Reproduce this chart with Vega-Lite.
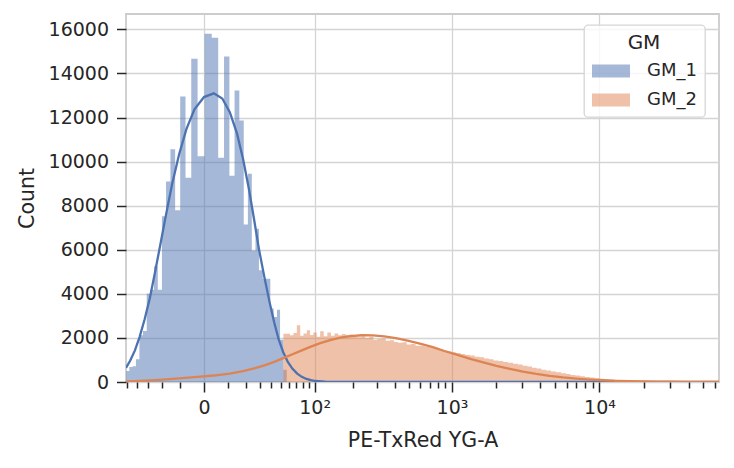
{
  "$schema": "https://vega.github.io/schema/vega-lite/v6.json",
  "autosize": {"type": "none"},
  "padding": {"left": 126, "top": 14, "right": 15, "bottom": 86},
  "width": 593,
  "height": 368,
  "background": "white",
  "datasets": {
    "hist": [
      {"GM": "GM_1", "x": -51.3, "count": 500},
      {"GM": "GM_1", "x": -47.9, "count": 680},
      {"GM": "GM_1", "x": -44.5, "count": 710},
      {"GM": "GM_1", "x": -41.1, "count": 1030},
      {"GM": "GM_1", "x": -37.8, "count": 2120},
      {"GM": "GM_1", "x": -34.6, "count": 2310},
      {"GM": "GM_1", "x": -31.4, "count": 4010},
      {"GM": "GM_1", "x": -28.5, "count": 4190},
      {"GM": "GM_1", "x": -25.7, "count": 5250},
      {"GM": "GM_1", "x": -23.0, "count": 4190},
      {"GM": "GM_1", "x": -20.2, "count": 7520},
      {"GM": "GM_1", "x": -17.6, "count": 9100},
      {"GM": "GM_1", "x": -15.0, "count": 10560},
      {"GM": "GM_1", "x": -12.4, "count": 7790},
      {"GM": "GM_1", "x": -9.8, "count": 12960},
      {"GM": "GM_1", "x": -7.3, "count": 9270},
      {"GM": "GM_1", "x": -4.8, "count": 14670},
      {"GM": "GM_1", "x": -2.3, "count": 10240},
      {"GM": "GM_1", "x": 0.2, "count": 15800},
      {"GM": "GM_1", "x": 2.8, "count": 15620},
      {"GM": "GM_1", "x": 5.4, "count": 10180},
      {"GM": "GM_1", "x": 8.0, "count": 14775},
      {"GM": "GM_1", "x": 10.6, "count": 9360},
      {"GM": "GM_1", "x": 13.3, "count": 13230},
      {"GM": "GM_1", "x": 16.0, "count": 11870},
      {"GM": "GM_1", "x": 18.7, "count": 7150},
      {"GM": "GM_1", "x": 21.4, "count": 9450},
      {"GM": "GM_1", "x": 24.1, "count": 5970},
      {"GM": "GM_1", "x": 26.8, "count": 6960},
      {"GM": "GM_1", "x": 29.5, "count": 5070},
      {"GM": "GM_1", "x": 32.7, "count": 4690},
      {"GM": "GM_1", "x": 36.1, "count": 4690},
      {"GM": "GM_1", "x": 39.4, "count": 3330},
      {"GM": "GM_1", "x": 42.7, "count": 2950},
      {"GM": "GM_1", "x": 46.1, "count": 3280},
      {"GM": "GM_1", "x": 49.4, "count": 1920},
      {"GM": "GM_1", "x": 53.2, "count": 560},
      {"GM": "GM_1", "x": 57.2, "count": 0},
      {"GM": "GM_2", "x": 53.2, "count": 2190},
      {"GM": "GM_2", "x": 57.2, "count": 2190},
      {"GM": "GM_2", "x": 61.3, "count": 2120},
      {"GM": "GM_2", "x": 65.9, "count": 2220},
      {"GM": "GM_2", "x": 70.6, "count": 2570},
      {"GM": "GM_2", "x": 75.6, "count": 2100},
      {"GM": "GM_2", "x": 80.7, "count": 2200},
      {"GM": "GM_2", "x": 86.1, "count": 2350},
      {"GM": "GM_2", "x": 91.6, "count": 2130},
      {"GM": "GM_2", "x": 97.5, "count": 2250},
      {"GM": "GM_2", "x": 103.9, "count": 2050},
      {"GM": "GM_2", "x": 110.9, "count": 2300},
      {"GM": "GM_2", "x": 118.4, "count": 2080},
      {"GM": "GM_2", "x": 126.4, "count": 2250},
      {"GM": "GM_2", "x": 134.9, "count": 2100},
      {"GM": "GM_2", "x": 144.0, "count": 2200},
      {"GM": "GM_2", "x": 153.7, "count": 2120},
      {"GM": "GM_2", "x": 164.1, "count": 2180},
      {"GM": "GM_2", "x": 175.1, "count": 2130},
      {"GM": "GM_2", "x": 186.9, "count": 2160},
      {"GM": "GM_2", "x": 199.5, "count": 2080},
      {"GM": "GM_2", "x": 213.6, "count": 2030},
      {"GM": "GM_2", "x": 228.7, "count": 2080},
      {"GM": "GM_2", "x": 244.9, "count": 2000},
      {"GM": "GM_2", "x": 262.2, "count": 2050},
      {"GM": "GM_2", "x": 280.8, "count": 1920},
      {"GM": "GM_2", "x": 300.6, "count": 1950},
      {"GM": "GM_2", "x": 321.7, "count": 1970},
      {"GM": "GM_2", "x": 344.4, "count": 1870},
      {"GM": "GM_2", "x": 368.7, "count": 1900},
      {"GM": "GM_2", "x": 394.6, "count": 1820},
      {"GM": "GM_2", "x": 422.8, "count": 1780},
      {"GM": "GM_2", "x": 453.0, "count": 1800},
      {"GM": "GM_2", "x": 485.6, "count": 1700},
      {"GM": "GM_2", "x": 520.9, "count": 1720},
      {"GM": "GM_2", "x": 559.6, "count": 1650},
      {"GM": "GM_2", "x": 601.3, "count": 1640},
      {"GM": "GM_2", "x": 649.2, "count": 1600},
      {"GM": "GM_2", "x": 701, "count": 1560},
      {"GM": "GM_2", "x": 751.3, "count": 1520},
      {"GM": "GM_2", "x": 805.2, "count": 1480},
      {"GM": "GM_2", "x": 858.5, "count": 1430},
      {"GM": "GM_2", "x": 917.6, "count": 1400},
      {"GM": "GM_2", "x": 990, "count": 1350},
      {"GM": "GM_2", "x": 1066, "count": 1320},
      {"GM": "GM_2", "x": 1148, "count": 1270},
      {"GM": "GM_2", "x": 1236, "count": 1230},
      {"GM": "GM_2", "x": 1330, "count": 1200},
      {"GM": "GM_2", "x": 1432, "count": 1150},
      {"GM": "GM_2", "x": 1541, "count": 1120},
      {"GM": "GM_2", "x": 1659, "count": 1070},
      {"GM": "GM_2", "x": 1786, "count": 1030},
      {"GM": "GM_2", "x": 1923, "count": 980},
      {"GM": "GM_2", "x": 2072, "count": 950},
      {"GM": "GM_2", "x": 2237, "count": 910},
      {"GM": "GM_2", "x": 2414, "count": 870},
      {"GM": "GM_2", "x": 2606, "count": 830},
      {"GM": "GM_2", "x": 2813, "count": 790},
      {"GM": "GM_2", "x": 3034, "count": 740},
      {"GM": "GM_2", "x": 3261, "count": 700},
      {"GM": "GM_2", "x": 3503, "count": 650},
      {"GM": "GM_2", "x": 3766, "count": 610},
      {"GM": "GM_2", "x": 4049, "count": 560},
      {"GM": "GM_2", "x": 4370, "count": 520},
      {"GM": "GM_2", "x": 4716, "count": 480},
      {"GM": "GM_2", "x": 5091, "count": 440},
      {"GM": "GM_2", "x": 5510, "count": 400},
      {"GM": "GM_2", "x": 5963, "count": 360},
      {"GM": "GM_2", "x": 6375, "count": 320},
      {"GM": "GM_2", "x": 6869, "count": 290},
      {"GM": "GM_2", "x": 7405, "count": 260},
      {"GM": "GM_2", "x": 7980, "count": 230},
      {"GM": "GM_2", "x": 8603, "count": 200},
      {"GM": "GM_2", "x": 9272, "count": 175},
      {"GM": "GM_2", "x": 9993, "count": 150},
      {"GM": "GM_2", "x": 10772, "count": 130},
      {"GM": "GM_2", "x": 11610, "count": 110},
      {"GM": "GM_2", "x": 12515, "count": 95},
      {"GM": "GM_2", "x": 13490, "count": 80},
      {"GM": "GM_2", "x": 14540, "count": 68},
      {"GM": "GM_2", "x": 15670, "count": 57},
      {"GM": "GM_2", "x": 16890, "count": 48},
      {"GM": "GM_2", "x": 18200, "count": 40},
      {"GM": "GM_2", "x": 19620, "count": 33},
      {"GM": "GM_2", "x": 21150, "count": 27},
      {"GM": "GM_2", "x": 22790, "count": 22},
      {"GM": "GM_2", "x": 24570, "count": 18},
      {"GM": "GM_2", "x": 26480, "count": 15},
      {"GM": "GM_2", "x": 28540, "count": 12},
      {"GM": "GM_2", "x": 30760, "count": 10},
      {"GM": "GM_2", "x": 33160, "count": 8},
      {"GM": "GM_2", "x": 35740, "count": 6},
      {"GM": "GM_2", "x": 38520, "count": 5},
      {"GM": "GM_2", "x": 41520, "count": 4},
      {"GM": "GM_2", "x": 44750, "count": 3},
      {"GM": "GM_2", "x": 48240, "count": 2},
      {"GM": "GM_2", "x": 51990, "count": 2},
      {"GM": "GM_2", "x": 56040, "count": 1},
      {"GM": "GM_2", "x": 60390, "count": 0}
    ],
    "curves": [
      {"GM": "GM_1", "x": -51.6, "y": 642},
      {"GM": "GM_1", "x": -46.9, "y": 975},
      {"GM": "GM_1", "x": -42.1, "y": 1436},
      {"GM": "GM_1", "x": -37.6, "y": 2048},
      {"GM": "GM_1", "x": -33.2, "y": 2834},
      {"GM": "GM_1", "x": -28.9, "y": 3799},
      {"GM": "GM_1", "x": -25.1, "y": 4937},
      {"GM": "GM_1", "x": -21.3, "y": 6220},
      {"GM": "GM_1", "x": -17.6, "y": 7597},
      {"GM": "GM_1", "x": -14.0, "y": 8992},
      {"GM": "GM_1", "x": -10.4, "y": 10316},
      {"GM": "GM_1", "x": -6.9, "y": 11474},
      {"GM": "GM_1", "x": -3.5, "y": 12372},
      {"GM": "GM_1", "x": 0, "y": 12930},
      {"GM": "GM_1", "x": 3.6, "y": 13100},
      {"GM": "GM_1", "x": 7.2, "y": 12863},
      {"GM": "GM_1", "x": 10.8, "y": 12243},
      {"GM": "GM_1", "x": 14.6, "y": 11297},
      {"GM": "GM_1", "x": 18.3, "y": 10104},
      {"GM": "GM_1", "x": 22.1, "y": 8761},
      {"GM": "GM_1", "x": 25.8, "y": 7362},
      {"GM": "GM_1", "x": 29.6, "y": 5998},
      {"GM": "GM_1", "x": 34.1, "y": 4736},
      {"GM": "GM_1", "x": 38.7, "y": 3625},
      {"GM": "GM_1", "x": 43.3, "y": 2690},
      {"GM": "GM_1", "x": 47.9, "y": 1935},
      {"GM": "GM_1", "x": 53.0, "y": 1350},
      {"GM": "GM_1", "x": 58.5, "y": 912},
      {"GM": "GM_1", "x": 64.6, "y": 597},
      {"GM": "GM_1", "x": 71.1, "y": 379},
      {"GM": "GM_1", "x": 78.0, "y": 233},
      {"GM": "GM_1", "x": 85.4, "y": 139},
      {"GM": "GM_1", "x": 93.2, "y": 81},
      {"GM": "GM_1", "x": 101.5, "y": 45},
      {"GM": "GM_1", "x": 121.6, "y": 13},
      {"GM": "GM_1", "x": 150.2, "y": 2},
      {"GM": "GM_1", "x": 237.9, "y": 0},
      {"GM": "GM_1", "x": 738.1, "y": 0},
      {"GM": "GM_1", "x": 4016, "y": 0},
      {"GM": "GM_1", "x": 22680, "y": 0},
      {"GM": "GM_1", "x": 74870, "y": 0},
      {"GM": "GM_2", "x": -51.6, "y": 27},
      {"GM": "GM_2", "x": -42.1, "y": 40},
      {"GM": "GM_2", "x": -33.2, "y": 59},
      {"GM": "GM_2", "x": -25.1, "y": 84},
      {"GM": "GM_2", "x": -17.6, "y": 119},
      {"GM": "GM_2", "x": -10.4, "y": 164},
      {"GM": "GM_2", "x": -3.5, "y": 222},
      {"GM": "GM_2", "x": 3.6, "y": 294},
      {"GM": "GM_2", "x": 10.8, "y": 384},
      {"GM": "GM_2", "x": 18.3, "y": 490},
      {"GM": "GM_2", "x": 25.8, "y": 615},
      {"GM": "GM_2", "x": 34.1, "y": 757},
      {"GM": "GM_2", "x": 43.3, "y": 914},
      {"GM": "GM_2", "x": 53.0, "y": 1083},
      {"GM": "GM_2", "x": 64.6, "y": 1259},
      {"GM": "GM_2", "x": 78.0, "y": 1436},
      {"GM": "GM_2", "x": 93.2, "y": 1608},
      {"GM": "GM_2", "x": 111.1, "y": 1765},
      {"GM": "GM_2", "x": 133.1, "y": 1902},
      {"GM": "GM_2", "x": 159.5, "y": 2010},
      {"GM": "GM_2", "x": 191.1, "y": 2085},
      {"GM": "GM_2", "x": 230.6, "y": 2121},
      {"GM": "GM_2", "x": 278.6, "y": 2118},
      {"GM": "GM_2", "x": 336.4, "y": 2075},
      {"GM": "GM_2", "x": 406.4, "y": 1994},
      {"GM": "GM_2", "x": 492.0, "y": 1881},
      {"GM": "GM_2", "x": 600, "y": 1740},
      {"GM": "GM_2", "x": 738.1, "y": 1580},
      {"GM": "GM_2", "x": 886.9, "y": 1407},
      {"GM": "GM_2", "x": 1089, "y": 1230},
      {"GM": "GM_2", "x": 1336, "y": 1054},
      {"GM": "GM_2", "x": 1638, "y": 887},
      {"GM": "GM_2", "x": 2011, "y": 732},
      {"GM": "GM_2", "x": 2485, "y": 593},
      {"GM": "GM_2", "x": 3045, "y": 471},
      {"GM": "GM_2", "x": 3747, "y": 367},
      {"GM": "GM_2", "x": 4612, "y": 281},
      {"GM": "GM_2", "x": 5677, "y": 211},
      {"GM": "GM_2", "x": 6988, "y": 155},
      {"GM": "GM_2", "x": 8603, "y": 112},
      {"GM": "GM_2", "x": 10588, "y": 80},
      {"GM": "GM_2", "x": 13032, "y": 55},
      {"GM": "GM_2", "x": 16040, "y": 38},
      {"GM": "GM_2", "x": 19745, "y": 25},
      {"GM": "GM_2", "x": 24310, "y": 17},
      {"GM": "GM_2", "x": 29920, "y": 11},
      {"GM": "GM_2", "x": 36830, "y": 7},
      {"GM": "GM_2", "x": 45340, "y": 4},
      {"GM": "GM_2", "x": 55800, "y": 3},
      {"GM": "GM_2", "x": 68680, "y": 2}
    ]
  },
  "layer": [
    {
      "data": {"name": "hist"},
      "mark": {"type": "area", "interpolate": "step-after", "fillOpacity": 0.5, "strokeWidth": 0, "clip": true},
      "encoding": {
        "x": {
          "field": "x", "type": "quantitative",
          "scale": {"type": "symlog", "constant": 22, "domain": [-51.6, 63780], "nice": false, "zero": false},
          "axis": {
            "orient": "bottom",
            "values": [0, 100, 1000, 10000],
            "labelExpr": "datum.value == 0 ? '0' : datum.value == 100 ? '10²' : datum.value == 1000 ? '10³' : '10⁴'",
            "tickSize": 10, "labelPadding": 6, "grid": true,
            "title": "PE-TxRed YG-A", "titlePadding": 13
          }
        },
        "y": {
          "field": "count", "type": "quantitative", "stack": null,
          "scale": {"domain": [0, 16700], "nice": false},
          "axis": {"values": [0, 2000, 4000, 6000, 8000, 10000, 12000, 14000, 16000], "format": "d", "title": "Count", "tickSize": 9.5, "labelPadding": 8, "titlePadding": 11, "grid": true}
        },
        "color": {
          "field": "GM", "type": "nominal",
          "scale": {"domain": ["GM_1", "GM_2"], "range": ["#4c72b0", "#dd8452"]},
          "legend": {
            "title": "GM",
            "orient": "none", "legendX": 458, "legendY": 11,
            "symbolType": "M-1.9,-0.645H1.9V0.645H-1.9Z", "symbolSize": 400,
            "symbolOffset": 9,
            "symbolOpacity": 0.5, "symbolStrokeWidth": 0,
            "labelOffset": 26, "rowPadding": 10, "titlePadding": 8,
            "padding": 8, "titleAnchor": "middle",
            "fillColor": "rgba(255,255,255,0.8)", "strokeColor": "#d6d6d6", "cornerRadius": 4
          }
        }
      }
    },
    {
      "data": {"name": "curves"},
      "mark": {"type": "line", "strokeWidth": 2.3, "clip": true},
      "encoding": {
        "x": {
          "field": "x", "type": "quantitative",
          "axis": {
            "orient": "bottom",
            "values": [-50, -40, -30, -20, -10, 10, 20, 30, 40, 50, 60, 70, 80, 90, 200, 300, 400, 500, 600, 700, 800, 900, 2000, 3000, 4000, 5000, 6000, 7000, 8000, 9000, 20000, 30000, 40000, 50000, 60000],
            "labels": false, "tickSize": 6, "grid": false, "title": null, "domain": false
          }
        },
        "y": {"field": "y", "type": "quantitative", "axis": {"title": "Count", "format": "d"}},
        "color": {"field": "GM", "type": "nominal", "legend": null}
      }
    }
  ],
  "resolve": {"axis": {"x": "independent"}},
  "config": {
    "font": "DejaVu Sans",
    "view": {"stroke": "#cccccc", "strokeWidth": 1.8},
    "axis": {
      "domain": false,
      "labelFont": "DejaVu Sans", "labelFontSize": 19, "labelColor": "#262626",
      "titleFont": "DejaVu Sans", "titleFontSize": 20.5, "titleFontWeight": "normal", "titleColor": "#262626",
      "gridColor": "#d4d4d4", "gridWidth": 1.3,
      "tickColor": "#262626", "tickWidth": 1.5
    },
    "legend": {
      "labelFont": "DejaVu Sans", "labelFontSize": 18, "labelColor": "#262626",
      "titleFont": "DejaVu Sans", "titleFontSize": 20, "titleFontWeight": "normal", "titleColor": "#262626",
      "strokeWidth": 1.3
    }
  }
}
